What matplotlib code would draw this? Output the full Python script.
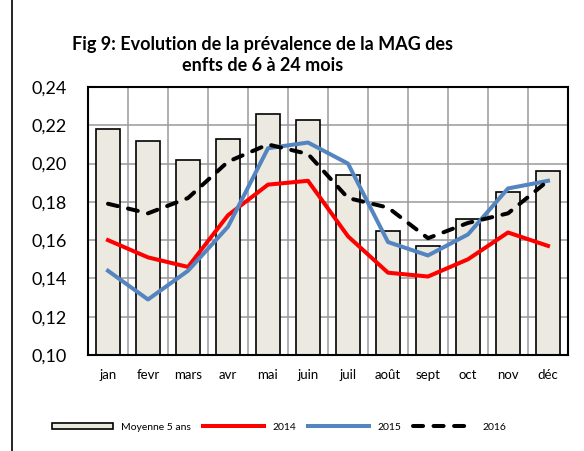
import matplotlib
matplotlib.use("Agg")
import matplotlib.pyplot as plt
from matplotlib.patches import Rectangle
from matplotlib.ticker import FuncFormatter
import numpy as np

plt.rcParams['font.family'] = ['Lato', 'DejaVu Sans']

mois = ["jan", "fevr", "mars", "avr", "mai", "juin", "juil", "août", "sept", "oct", "nov", "déc"]
moyenne_5ans = [0.218, 0.212, 0.202, 0.213, 0.226, 0.223, 0.194, 0.165, 0.157, 0.171, 0.185, 0.196]
prev_2014 = [0.160, 0.151, 0.146, 0.173, 0.189, 0.191, 0.162, 0.143, 0.141, 0.150, 0.164, 0.157]
prev_2015 = [0.144, 0.129, 0.144, 0.167, 0.208, 0.211, 0.200, 0.159, 0.152, 0.163, 0.187, 0.191]
prev_2016 = [0.179, 0.174, 0.182, 0.201, 0.210, 0.205, 0.182, 0.177, 0.161, 0.169, 0.174, 0.191]

fig = plt.figure(figsize=(5.84, 4.51), dpi=100)
ax = fig.add_axes([88/584, 1 - 355/451, 480/584, 268/451])

x = np.arange(len(mois))
barres = ax.bar(x, moyenne_5ans, width=0.58, color='#ECEAE0', edgecolor='black', linewidth=1.2,
                label='Moyenne 5 ans', zorder=2)
l14, = ax.plot(x, prev_2014, color='#FF0000', lw=2.9, label='2014', zorder=3)
l15, = ax.plot(x, prev_2015, color='#5585C0', lw=2.9, label='2015', zorder=4)
l16, = ax.plot(x, prev_2016, color='black', lw=2.9, linestyle=(0, (2.5, 2.6)),
               dash_capstyle='round', label='2016', zorder=5)

ax.set_xlim(-0.5, 11.5)
ax.set_ylim(0.10, 0.24)
ax.set_yticks(np.arange(0.10, 0.2401, 0.02))
ax.yaxis.set_major_formatter(FuncFormatter(lambda v, p: f"{v:.2f}".replace('.', ',')))
ax.set_xticks(x)
ax.set_xticklabels(mois)
ax.set_xticks(np.arange(-0.5, 12, 1), minor=True)
ax.tick_params(axis='y', length=0, pad=15, labelsize=13)
ax.tick_params(axis='x', which='both', length=0, pad=10, labelsize=9.5)
ax.set_axisbelow(True)
ax.grid(axis='y', which='major', color='#9A9A9A', lw=1.1)
ax.grid(axis='x', which='minor', color='#9A9A9A', lw=1.1)
for s in ax.spines.values():
    s.set_linewidth(1.5)

fig.text(263/584, 1 - 55/451, "Fig 9: Evolution de la prévalence de la MAG des\nenfts de 6 à 24 mois",
         ha='center', va='center', fontsize=13, fontweight='bold', linespacing=1.3)

fig.legend([barres, l14, l15, l16], ['Moyenne 5 ans', '2014', '2015', '2016'],
           loc='center', bbox_to_anchor=(0.478, 1 - 427/451), ncol=4, frameon=False,
           fontsize=7.5, handlelength=5.8, handleheight=0.6, handletextpad=0.8,
           columnspacing=1.2)

# cadre extérieur (gauche + haut)
fig.add_artist(Rectangle((12/584, -0.2), 1.2, 1.2 + (1 - 13/451), transform=fig.transFigure,
                         fill=False, edgecolor='black', lw=1.2))

fig.savefig("out.png", dpi=100)
